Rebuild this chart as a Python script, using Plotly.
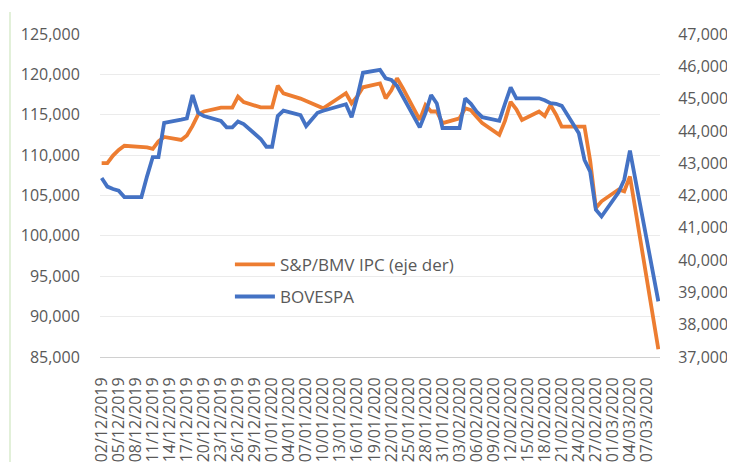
import plotly.graph_objects as go

# Fechas de los datos (dias habiles + algunos feriados con valor repetido)
fechas = [
    "2019-12-02", "2019-12-03", "2019-12-04", "2019-12-05", "2019-12-06",
    "2019-12-09", "2019-12-10", "2019-12-11", "2019-12-12", "2019-12-13",
    "2019-12-16", "2019-12-17", "2019-12-18", "2019-12-19", "2019-12-20",
    "2019-12-23", "2019-12-24", "2019-12-25", "2019-12-26", "2019-12-27",
    "2019-12-30", "2019-12-31",
    "2020-01-01", "2020-01-02", "2020-01-03", "2020-01-06", "2020-01-07",
    "2020-01-08", "2020-01-09", "2020-01-10", "2020-01-13", "2020-01-14",
    "2020-01-15", "2020-01-16", "2020-01-17", "2020-01-20", "2020-01-21",
    "2020-01-22", "2020-01-23", "2020-01-24", "2020-01-27", "2020-01-28",
    "2020-01-29", "2020-01-30", "2020-01-31",
    "2020-02-03", "2020-02-04", "2020-02-05", "2020-02-06", "2020-02-07",
    "2020-02-10", "2020-02-11", "2020-02-12", "2020-02-13", "2020-02-14",
    "2020-02-17", "2020-02-18", "2020-02-19", "2020-02-20", "2020-02-21",
    "2020-02-24", "2020-02-25", "2020-02-26", "2020-02-27", "2020-02-28",
    "2020-03-02", "2020-03-03", "2020-03-04", "2020-03-09",
]

# Serie naranja (se lee en el eje izquierdo)
serie_naranja = [
    109000, 109000, 109940, 110640, 111160, 111080, 110960, 110780, 111720, 112250,
    111880, 112440, 113620, 115040, 115400, 115880, 115880, 115880, 117240, 116560,
    115920, 115920,
    115920, 118600, 117660, 117000, 116680, 116400, 116080, 115800, 117200, 117660,
    116420, 117280, 118400, 118880, 117040, 118020, 119520, 118320, 114360, 116200,
    115400, 115400, 113960,
    114560, 115800, 115560, 114760, 113960, 112520, 114240, 116600, 115680, 114360,
    115400, 114840, 116200, 115000, 113520, 113520, 113520, 109300, 103460, 104280,
    105740, 105520, 107360, 85960,
]

# Serie azul (se lee en el eje derecho)
serie_azul = [
    42540, 42275, 42200, 42150, 41950, 41950, 42600, 43190, 43190, 44250,
    44350, 44390, 45110, 44560, 44460, 44310, 44110, 44110, 44290, 44210,
    43750, 43510,
    43510, 44460, 44625, 44490, 44150, 44375, 44560, 44625, 44775, 44825,
    44425, 45050, 45800, 45890, 45625, 45575, 45390, 45075, 44110, 44550,
    45110, 44850, 44090,
    44090, 45010, 44840, 44600, 44425, 44310, 44840, 45350, 45010, 45010,
    45010, 44950, 44860, 44840, 44775, 43925, 43100, 42740, 41560, 41350,
    42100, 42490, 43390, 38725,
]

nombre_naranja = "S&P/BMV IPC (eje der)"
nombre_azul = "BOVESPA"

gris = "#595959"
fuente = "Open Sans"

fig = go.Figure()

fig.add_trace(go.Scatter(
    x=fechas, y=serie_naranja, mode="lines", name=nombre_naranja,
    line=dict(color="#ED7D31", width=3.8), yaxis="y",
    legendgroup="a", legendrank=1,
))
fig.add_trace(go.Scatter(
    x=fechas, y=serie_azul, mode="lines", name=nombre_azul,
    line=dict(color="#4472C4", width=3.8), yaxis="y2",
    legendgroup="b", legendrank=2,
))

# la pagina tiene 8px de margen en el body, por eso la figura es algo mas chica
fig.update_layout(
    width=727, height=454,
    margin=dict(l=92, r=75, t=26, b=105),
    paper_bgcolor="white", plot_bgcolor="white",
    font=dict(family=fuente, size=16, color=gris),
    showlegend=True,
    legend=dict(
        x=0.232, y=0.341, xanchor="left", yanchor="top",
        bgcolor="rgba(0,0,0,0)", font=dict(size=17, color=gris),
        traceorder="grouped", tracegroupgap=7, itemwidth=40,
    ),
    xaxis=dict(
        type="date", automargin=False,
        range=["2019-12-01 17:00", "2020-03-09 07:00"],
        tick0="2019-12-02", dtick=3 * 86400000,
        tickformat="%d/%m/%Y", tickangle=-90,
        showgrid=False, showline=True, linecolor="#d0d0d0", linewidth=1,
        ticks="outside", ticklen=13, tickcolor="rgba(0,0,0,0)",
        tickfont=dict(size=16, color=gris),
    ),
    yaxis=dict(
        range=[85000, 125000], dtick=5000, tickformat=",d", automargin=False,
        showgrid=True, gridcolor="#ebebeb", gridwidth=1,
        zeroline=False, showline=False,
        ticks="outside", ticklen=16, tickcolor="rgba(0,0,0,0)",
        tickfont=dict(size=16, color=gris),
    ),
    yaxis2=dict(
        range=[37000, 47000], dtick=1000, tickformat=",d", automargin=False,
        overlaying="y", side="right",
        showgrid=False, zeroline=False, showline=False,
        ticks="outside", ticklen=14, tickcolor="rgba(0,0,0,0)",
        tickfont=dict(size=16, color=gris),
    ),
)

# borde verde claro a la izquierda de la captura
fig.add_shape(
    type="line", xref="paper", yref="paper",
    x0=-0.1607, x1=-0.1607, y0=1.068, y1=-0.33,
    line=dict(color="#e2f0d9", width=2),
)

fig.write_html("out.html")
